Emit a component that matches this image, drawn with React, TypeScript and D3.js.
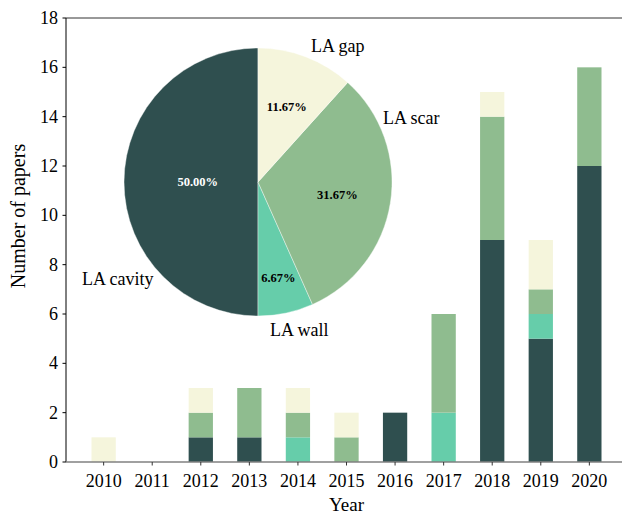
import React, { useEffect, useRef } from 'react'
import * as d3 from 'd3'

// bar data, one array per category
const years = [2010, 2011, 2012, 2013, 2014, 2015, 2016, 2017, 2018, 2019, 2020]
const cavity = [0, 0, 1, 1, 0, 0, 2, 0, 9, 5, 12]
const wall = [0, 0, 0, 0, 1, 0, 0, 2, 0, 1, 0]
const scar = [0, 0, 1, 2, 1, 1, 0, 4, 5, 1, 4]
const gap = [1, 0, 1, 0, 1, 1, 0, 0, 1, 2, 0]

const categories = ['LA cavity', 'LA wall', 'LA scar', 'LA gap']
const colors = ['#2f4f4f', '#66cdaa', '#8fbc8f', '#f5f5dc']
const yTicks = [0, 2, 4, 6, 8, 10, 12, 14, 16, 18]

// pie label layout (offsets from the pie centre, px) and percent label distance
const pieLabelPos: [number, number][] = [[-176, 103], [12, 154], [125, -58], [53, -130]]
const pctDist = [0.45, 0.73, 0.6, 0.6]

const FONT = 'Liberation Serif'

export default function App() {
  const ref = useRef<SVGSVGElement>(null)

  useEffect(() => {
    const W = 622, H = 515
    const margin = { top: 18, left: 66 }
    const plotRight = 627, plotBottom = 462

    const svg = d3.select(ref.current)
    svg.selectAll('*').remove()
    svg.attr('font-family', FONT)

    const x = d3.scaleLinear().domain([2009.225, 2020.775]).range([margin.left, plotRight])
    const y = d3.scaleLinear().domain([0, 18]).range([plotBottom, margin.top])
    const barW = x(2010.25) - x(2009.75)

    const rows = years.map((yr, i) => ({
      year: yr,
      'LA cavity': cavity[i],
      'LA wall': wall[i],
      'LA scar': scar[i],
      'LA gap': gap[i],
    }))
    const series = d3.stack<any>().keys(categories)(rows)

    // bars
    svg.append('g')
      .selectAll('g')
      .data(series)
      .join('g')
      .attr('fill', (d, i) => colors[i])
      .selectAll('rect')
      .data(d => d)
      .join('rect')
      .attr('x', d => x(d.data.year) - barW / 2)
      .attr('width', barW)
      .attr('y', d => y(d[1]))
      .attr('height', d => y(d[0]) - y(d[1]))

    // spines
    svg.append('line')
      .attr('x1', margin.left).attr('x2', plotRight)
      .attr('y1', margin.top).attr('y2', margin.top)
      .attr('stroke', '#333').attr('stroke-width', 1)
    svg.append('line')
      .attr('x1', margin.left).attr('x2', margin.left)
      .attr('y1', margin.top).attr('y2', plotBottom)
      .attr('stroke', '#000').attr('stroke-width', 1)
    svg.append('line')
      .attr('x1', margin.left).attr('x2', plotRight)
      .attr('y1', plotBottom).attr('y2', plotBottom)
      .attr('stroke', '#808080').attr('stroke-width', 1.5)

    // y axis ticks
    const yt = svg.append('g')
    yt.selectAll('line')
      .data(yTicks)
      .join('line')
      .attr('x1', margin.left - 3.5).attr('x2', margin.left)
      .attr('y1', d => y(d)).attr('y2', d => y(d))
      .attr('stroke', '#000')
    yt.selectAll('text')
      .data(yTicks)
      .join('text')
      .attr('x', margin.left - 8)
      .attr('y', d => y(d))
      .attr('dy', '0.34em')
      .attr('text-anchor', 'end')
      .attr('font-size', 18)
      .text(d => d)

    // x axis ticks
    const xt = svg.append('g')
    xt.selectAll('line')
      .data(years)
      .join('line')
      .attr('x1', d => x(d)).attr('x2', d => x(d))
      .attr('y1', plotBottom).attr('y2', plotBottom + 3.5)
      .attr('stroke', '#333')
    xt.selectAll('text')
      .data(years)
      .join('text')
      .attr('x', d => x(d))
      .attr('y', plotBottom + 25)
      .attr('text-anchor', 'middle')
      .attr('font-size', 18)
      .text(d => d)

    // axis labels
    svg.append('text')
      .attr('x', (margin.left + plotRight) / 2)
      .attr('y', 511)
      .attr('text-anchor', 'middle')
      .attr('font-size', 19)
      .text('Year')
    svg.append('text')
      .attr('transform', 'translate(25,216) rotate(-90)')
      .attr('text-anchor', 'middle')
      .attr('font-size', 20)
      .text('Number of papers')

    // pie of totals
    const totals = [d3.sum(cavity), d3.sum(wall), d3.sum(scar), d3.sum(gap)]
    const all = d3.sum(totals)
    const cx = 258, cy = 182, r = 134
    const pie = d3.pie<number>().sort(null).startAngle(0).endAngle(-2 * Math.PI)
    const arcs = pie(totals)
    const arc = d3.arc<d3.PieArcDatum<number>>().innerRadius(0).outerRadius(r)

    const pg = svg.append('g').attr('transform', `translate(${cx},${cy})`)
    pg.selectAll('path')
      .data(arcs)
      .join('path')
      .attr('d', arc)
      .attr('fill', (d, i) => colors[i])
      .attr('stroke', '#fff')
      .attr('stroke-width', 0.4)

    pg.selectAll('text.pct')
      .data(arcs)
      .join('text')
      .attr('class', 'pct')
      .attr('x', (d, i) => Math.sin((d.startAngle + d.endAngle) / 2) * r * pctDist[i])
      .attr('y', (d, i) => -Math.cos((d.startAngle + d.endAngle) / 2) * r * pctDist[i])
      .attr('dy', '0.35em')
      .attr('text-anchor', 'middle')
      .attr('fill', (d, i) => (i === 0 ? '#fff' : '#000'))
      .attr('font-size', 12.5)
      .attr('font-weight', 'bold')
      .text(d => ((d.value / all) * 100).toFixed(2) + '%')

    pg.selectAll('text.lbl')
      .data(categories)
      .join('text')
      .attr('class', 'lbl')
      .attr('x', (d, i) => pieLabelPos[i][0])
      .attr('y', (d, i) => pieLabelPos[i][1])
      .attr('font-size', 18)
      .text(d => d)

    svg.attr('width', W).attr('height', H)
  }, [])

  return (
    <div style={{ position: 'absolute', left: 0, top: 0 }}>
      <svg ref={ref} width={622} height={515} style={{ display: 'block' }} />
    </div>
  )
}
